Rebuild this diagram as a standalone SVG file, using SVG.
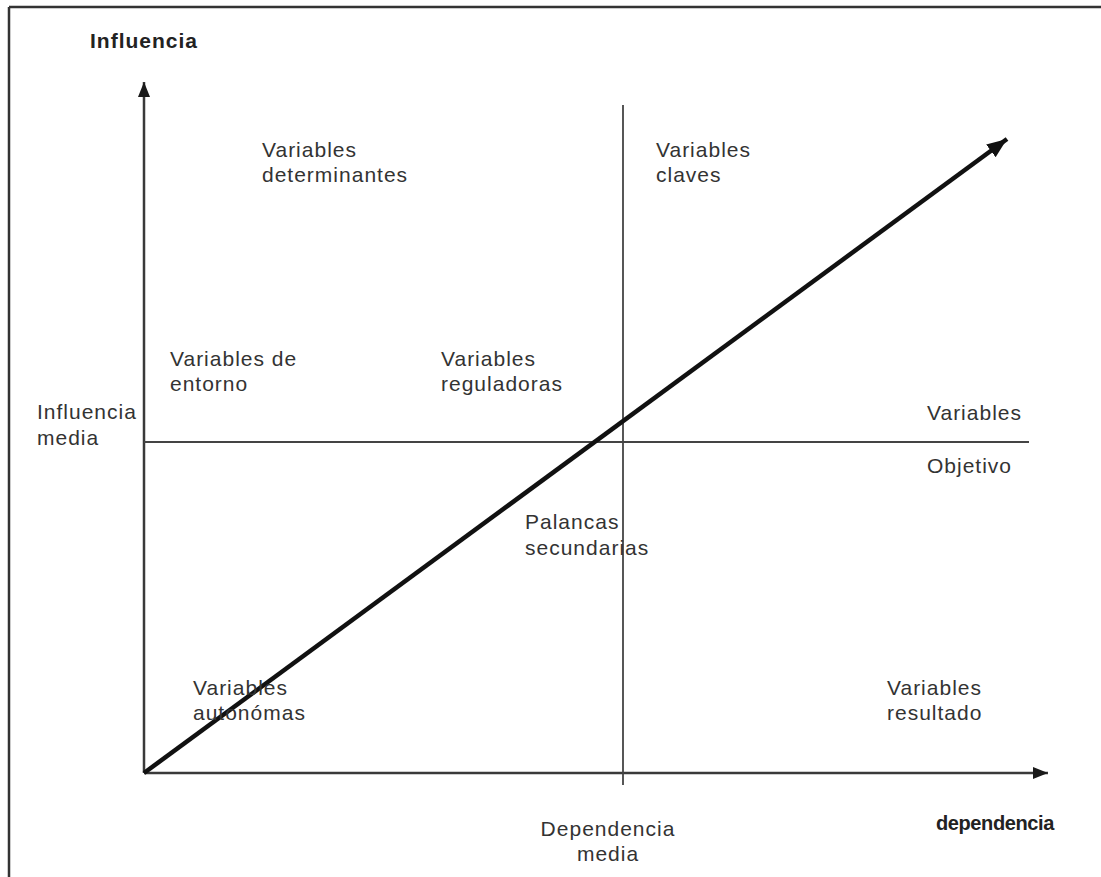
<svg xmlns="http://www.w3.org/2000/svg" width="1101" height="877" viewBox="0 0 1101 877">
  <style>
    .lbl { font-family: "Liberation Sans", Arial, Helvetica, sans-serif; font-size: 21px; letter-spacing: 1px; fill: #333333; }
    .bold { font-weight: bold; fill: #222222; }
    .tight { font-size: 20px; letter-spacing: -0.4px; }
    .frame { stroke: #333333; stroke-width: 2.5; fill: none; }
    .axis { stroke: #3a3a3a; stroke-width: 2.5; fill: none; }
    .mid { stroke: #444444; stroke-width: 1.8; fill: none; }
    .diag { stroke: #111111; stroke-width: 4.5; fill: none; }
  </style>
  <defs>
    <marker id="axisHead" markerUnits="userSpaceOnUse" markerWidth="16" markerHeight="14" refX="15" refY="7" orient="auto">
      <path d="M0,1 L15,7 L0,13 Z" fill="#1a1a1a"/>
    </marker>
    <marker id="diagHead" markerUnits="userSpaceOnUse" markerWidth="22" markerHeight="18" refX="20" refY="9" orient="auto">
      <path d="M0,1 L20,9 L0,17 Z" fill="#111111"/>
    </marker>
  </defs>

  <rect width="1101" height="877" fill="#ffffff"/>

  <!-- outer frame (top and left edges) -->
  <g id="frame">
    <line class="frame" x1="9" y1="7" x2="1101" y2="7"/>
    <line class="frame" x1="9" y1="7" x2="9" y2="877"/>
  </g>

  <!-- axes, reference lines and trend arrow -->
  <g id="connectors">
    <line id="axis-y" class="axis" x1="144" y1="773" x2="144" y2="82" marker-end="url(#axisHead)"/>
    <line id="axis-x" class="axis" x1="144" y1="773" x2="1048" y2="773" marker-end="url(#axisHead)"/>
    <line id="mid-dependence" class="mid" x1="623" y1="105" x2="623" y2="785"/>
    <line id="mid-influence" class="mid" x1="144" y1="442" x2="1029" y2="442"/>
    <line id="trend" class="diag" x1="144" y1="773" x2="1007" y2="139" marker-end="url(#diagHead)"/>
  </g>

  <!-- axis titles -->
  <g id="title-influencia">
    <text class="lbl bold" x="90" y="48">Influencia</text>
  </g>
  <g id="title-dependencia">
    <text class="lbl bold tight" x="936" y="830">dependencia</text>
  </g>
  <g id="influencia-media">
    <text class="lbl" x="37" y="419">Influencia</text>
    <text class="lbl" x="37" y="445">media</text>
  </g>
  <g id="dependencia-media">
    <text class="lbl" x="608" y="836" text-anchor="middle">Dependencia</text>
    <text class="lbl" x="608" y="861" text-anchor="middle">media</text>
  </g>

  <!-- quadrant labels -->
  <g id="variables-determinantes">
    <text class="lbl" x="262" y="157">Variables</text>
    <text class="lbl" x="262" y="182">determinantes</text>
  </g>
  <g id="variables-claves">
    <text class="lbl" x="656" y="157">Variables</text>
    <text class="lbl" x="656" y="182">claves</text>
  </g>
  <g id="variables-entorno">
    <text class="lbl" x="170" y="366">Variables de</text>
    <text class="lbl" x="170" y="391">entorno</text>
  </g>
  <g id="variables-reguladoras">
    <text class="lbl" x="441" y="366">Variables</text>
    <text class="lbl" x="441" y="391">reguladoras</text>
  </g>
  <g id="variables-objetivo">
    <text class="lbl" x="1022" y="420" text-anchor="end">Variables</text>
    <text class="lbl" x="927" y="473">Objetivo</text>
  </g>
  <g id="palancas-secundarias">
    <text class="lbl" x="525" y="529">Palancas</text>
    <text class="lbl" x="525" y="555">secundarias</text>
  </g>
  <g id="variables-autonomas">
    <text class="lbl" x="193" y="695">Variables</text>
    <text class="lbl" x="193" y="720">autonómas</text>
  </g>
  <g id="variables-resultado">
    <text class="lbl" x="887" y="695">Variables</text>
    <text class="lbl" x="887" y="720">resultado</text>
  </g>
</svg>
